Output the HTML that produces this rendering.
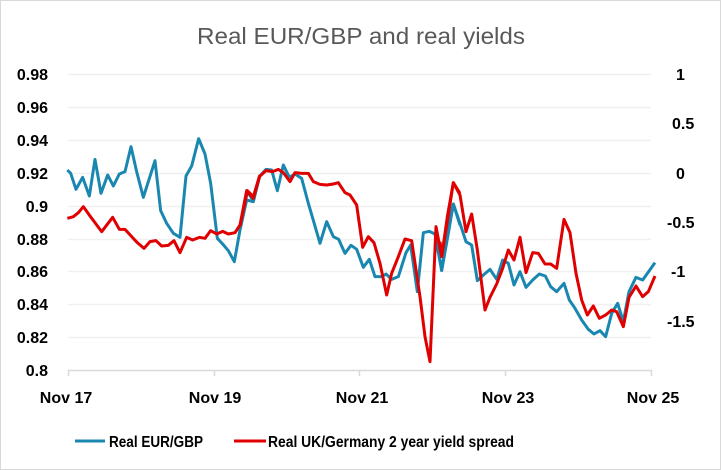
<!DOCTYPE html>
<html><head><meta charset="utf-8"><style>
html,body{margin:0;padding:0;background:#fff}
svg{display:block}
text{font-family:"Liberation Sans",sans-serif}
</style></head><body>
<svg width="721" height="470" viewBox="0 0 721 470" xmlns="http://www.w3.org/2000/svg">
<rect x="0.5" y="0.5" width="720" height="469" fill="#fff" stroke="#d9d9d9"/>
<text x="197" y="44" font-size="23" fill="#595959" textLength="328" lengthAdjust="spacingAndGlyphs">Real EUR/GBP and real yields</text>
<g stroke="#f0f0f0" stroke-width="1.5">
<line x1="68" x2="651" y1="74.5" y2="74.5"/><line x1="68" x2="651" y1="107.5" y2="107.5"/>
<line x1="68" x2="651" y1="140.5" y2="140.5"/><line x1="68" x2="651" y1="173.5" y2="173.5"/>
<line x1="68" x2="651" y1="206.5" y2="206.5"/><line x1="68" x2="651" y1="239.5" y2="239.5"/>
<line x1="68" x2="651" y1="271.5" y2="271.5"/><line x1="68" x2="651" y1="304.5" y2="304.5"/>
<line x1="68" x2="651" y1="337.5" y2="337.5"/>
</g>
<line x1="68" x2="651" y1="370.5" y2="370.5" stroke="#d9d9d9" stroke-width="1.5"/>
<g stroke="#d9d9d9" stroke-width="1.5">
<line x1="68.5" x2="68.5" y1="370" y2="376"/><line x1="214.5" x2="214.5" y1="370" y2="376"/>
<line x1="359.5" x2="359.5" y1="370" y2="376"/><line x1="505.5" x2="505.5" y1="370" y2="376"/>
<line x1="651.5" x2="651.5" y1="370" y2="376"/>
</g>
<g font-size="16" font-weight="bold" fill="#000" text-anchor="end">
<text x="48" y="80">0.98</text><text x="48" y="113">0.96</text><text x="48" y="146">0.94</text>
<text x="48" y="179">0.92</text><text x="48" y="212">0.9</text><text x="48" y="245">0.88</text>
<text x="48" y="277">0.86</text><text x="48" y="310">0.84</text><text x="48" y="343">0.82</text>
<text x="48" y="376">0.8</text>
</g>
<g font-size="16" font-weight="bold" fill="#000" text-anchor="start">
<text x="676" y="80">1</text><text x="672" y="129">0.5</text><text x="676" y="179">0</text>
<text x="667" y="228">-0.5</text><text x="671" y="277">-1</text><text x="667" y="327">-1.5</text>
</g>
<g font-size="16" font-weight="bold" fill="#000" text-anchor="middle">
<text x="66" y="403">Nov 17</text><text x="215" y="403">Nov 19</text><text x="362" y="403">Nov 21</text>
<text x="508" y="403">Nov 23</text><text x="653" y="403">Nov 25</text>
</g>
<g fill="none" stroke-linejoin="round" stroke-width="3">
<g transform="translate(40,60) scale(0.33333)" stroke="#1a87b0">
<polyline vector-effect="non-scaling-stroke" points="82,330 92,340 108,388 128,352 148,408 165,298 183,400 203,345 220,378 238,342 255,335 273,260 290,335 310,412 345,302 362,452 380,490 400,520 420,532 438,348 455,318 476,236 495,282 512,370 532,535 548,552 565,572 583,605 600,510 620,420 640,425 660,345"/>
</g>
<g transform="translate(240,60) scale(0.33333)" stroke="#1a87b0">
<polyline vector-effect="non-scaling-stroke" points="0,505 22,395 40,422 58,350 78,328 95,330 112,392 130,315 148,352 165,342 185,355 205,430 222,488 240,550 260,485 280,530 296,538 315,580 333,556 350,568 370,622 388,598 405,650 425,650 438,642 455,658 475,650 498,578 512,555 532,695 550,518 568,514 585,522 605,632 625,520 640,432 660,495"/>
</g>
<g transform="translate(440,60) scale(0.33333)" stroke="#1a87b0">
<polyline vector-effect="non-scaling-stroke" points="0,600 5,630 22,520 40,432 60,490 78,545 95,555 112,662 130,645 150,628 170,658 188,600 205,610 222,675 240,635 258,682 278,660 298,642 316,648 332,680 350,695 372,670 388,720 405,745 425,780 445,808 462,822 480,812 497,830 515,760 533,730 550,785 567,695 588,652 608,660 645,608"/>
</g>
<g transform="translate(40,60) scale(0.33333)" stroke="#e00000">
<polyline vector-effect="non-scaling-stroke" points="82,475 100,470 115,458 130,440 150,468 185,515 218,472 238,508 255,508 275,530 292,548 312,565 330,545 348,542 365,558 385,556 402,542 420,578 440,532 458,540 478,532 495,535 512,512 530,522 548,514 565,522 585,518 600,495 620,392 640,415 660,345"/>
</g>
<g transform="translate(240,60) scale(0.33333)" stroke="#e00000">
<polyline vector-effect="non-scaling-stroke" points="0,498 22,392 40,410 58,350 78,332 98,335 115,328 130,338 150,365 165,338 185,340 205,340 220,365 240,373 260,375 280,372 295,368 315,398 330,405 350,435 368,562 385,530 402,548 420,610 440,705 455,640 475,590 495,537 515,542 540,710 555,830 570,905 588,500 605,590 625,465 640,368 660,400"/>
</g>
<g transform="translate(440,60) scale(0.33333)" stroke="#e00000">
<polyline vector-effect="non-scaling-stroke" points="0,545 5,590 22,470 40,368 60,405 78,515 95,462 112,570 135,750 150,712 170,672 188,625 205,570 222,600 240,532 258,638 278,578 295,580 315,612 332,612 350,625 372,478 390,518 408,640 425,720 442,765 460,738 478,775 497,765 515,750 530,755 550,800 567,712 588,678 608,710 625,695 645,648"/>
</g>
</g>
<line x1="75" x2="105" y1="441" y2="441" stroke="#1a87b0" stroke-width="3"/>
<text x="109" y="447" font-size="16" font-weight="bold" textLength="94" lengthAdjust="spacingAndGlyphs">Real EUR/GBP</text>
<line x1="234" x2="266" y1="441" y2="441" stroke="#e00000" stroke-width="3"/>
<text x="268" y="447" font-size="16" font-weight="bold" textLength="246" lengthAdjust="spacingAndGlyphs">Real UK/Germany 2 year yield spread</text>
</svg>
</body></html>
